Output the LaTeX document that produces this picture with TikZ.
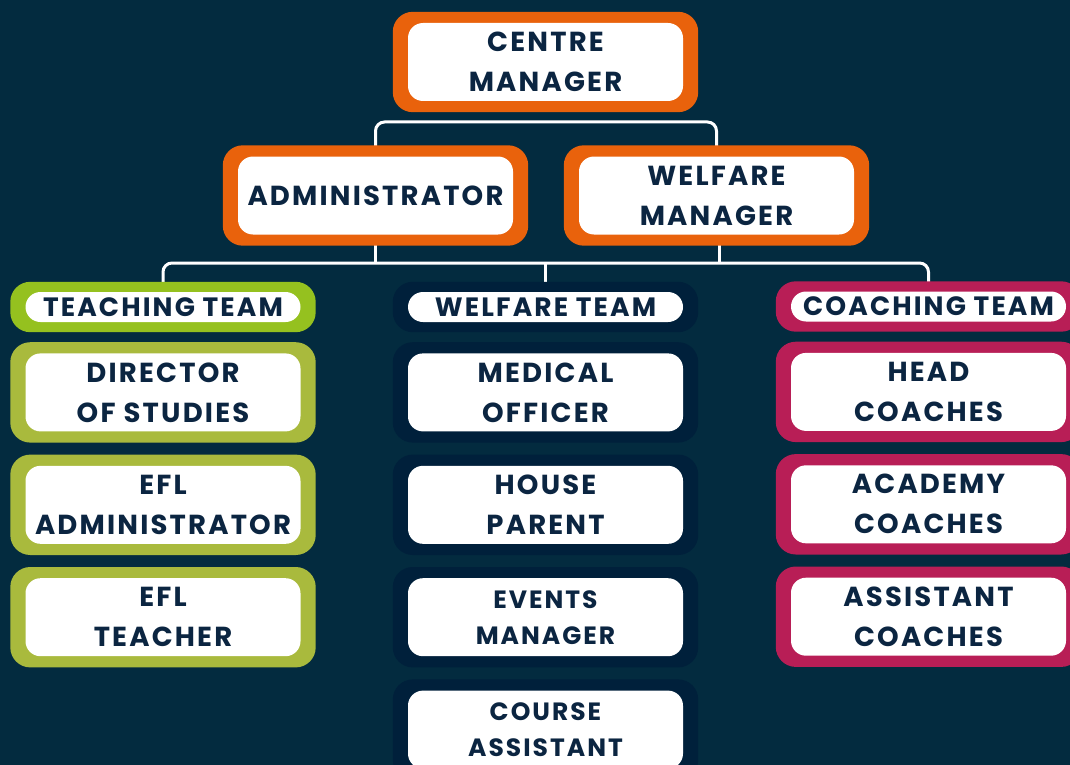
\documentclass[tikz,border=0pt]{standalone}
\usepackage{fontspec}
\setmainfont{Poppins}[LetterSpace=8]
\usetikzlibrary{positioning, backgrounds}

\definecolor{bgnavy}{HTML}{032B3F}
\definecolor{ink}{HTML}{0B2541}
\definecolor{mgrorange}{HTML}{E9620C}
\definecolor{teachhead}{HTML}{95C11F}
\definecolor{teacholive}{HTML}{A9BA3D}
\definecolor{welfnavy}{HTML}{00203B}
\definecolor{coachred}{HTML}{B81E56}

\begin{document}
\begin{tikzpicture}[
            x = 1pt, y = -1pt, % one unit per pixel of the chart
            node distance = 34pt, % gap between boxes of a column
            link/.style = {draw = white, line width = 3pt, rounded corners = 9pt}
        ]

        \tikzstyle{rolebox}=[
            fill = white,
            rounded corners = 15pt,
            minimum width = 275pt,
            minimum height = 78pt,
            inner sep = 0pt,
            align = center,
            text = ink,
            font = \bfseries\fontsize{27.5}{40}\selectfont
        ]
        \tikzstyle{teambox}=[
            rolebox,
            minimum height = 30pt,
            font = \bfseries\fontsize{26.5}{30}\selectfont
        ]
        \tikzstyle{smallbox}=[
            rolebox,
            font = \bfseries\fontsize{25}{36}\selectfont
        ]

        \useasboundingbox (0,0) rectangle (1070,765);

        % management
        \node[rolebox] (cm) at (545.5,62) {CENTRE\\MANAGER};
        \node[rolebox] (adm) at (375.5,195.5) {ADMINISTRATOR};
        \node[rolebox] (wm) at (716.5,195.5) {WELFARE\\MANAGER};

        % teams
        \node[teambox] (tt) at (163,307) {TEACHING TEAM};
        \node[teambox] (wt) at (545.5,307) {WELFARE TEAM};
        \node[teambox] (ct) at (928.5,306.5) {COACHING TEAM};

        \node[rolebox] (dos) [below=31pt of tt] {DIRECTOR\\OF STUDIES};
        \node[rolebox] (efla) [below=of dos] {EFL\\ADMINISTRATOR};
        \node[rolebox] (eflt) [below=of efla] {EFL\\TEACHER};

        \node[rolebox] (mo) [below=31pt of wt] {MEDICAL\\OFFICER};
        \node[rolebox] (hp) [below=of mo] {HOUSE\\PARENT};
        \node[smallbox] (em) [below=of hp] {EVENTS\\MANAGER};
        \node[smallbox] (ca) [below=of em] {COURSE\\ASSISTANT};

        \node[rolebox] (hc) [below=31pt of ct] {HEAD\\COACHES};
        \node[rolebox] (ac) [below=of hc] {ACADEMY\\COACHES};
        \node[rolebox] (asc) [below=of ac] {ASSISTANT\\COACHES};

        \begin{pgfonlayer}{background}
            \fill[bgnavy] (0,0) rectangle (1070,765);

            % links
            \coordinate (top) at (545.5,122);
            \coordinate (mid) at (545.5,263);
            \draw[link] (adm.north) |- (top) -| (wm.north);
            \draw[link] (tt.north) |- (mid) -| (ct.north);
            \draw[link] (adm.south) -- (adm.south |- mid);
            \draw[link] ([xshift=3pt]wm.south) -- ([xshift=3pt]wm.south |- mid);
            \draw[link] (wt.north) -- (mid);

            % frames
            \foreach \n/\c/\v in {cm/mgrorange/11, adm/mgrorange/11, wm/mgrorange/11,
                    tt/teachhead/10, dos/teacholive/11, efla/teacholive/11, eflt/teacholive/11,
                    wt/welfnavy/10, mo/welfnavy/11, hp/welfnavy/11, em/welfnavy/11, ca/welfnavy/11,
                    ct/coachred/10, hc/coachred/11, ac/coachred/11, asc/coachred/11}
                \fill[\c, rounded corners = 20pt]
                    ([shift={(-15pt,\v pt)}]\n.north west) rectangle ([shift={(15pt,-\v pt)}]\n.south east);
        \end{pgfonlayer}

    \end{tikzpicture}
\end{document}
